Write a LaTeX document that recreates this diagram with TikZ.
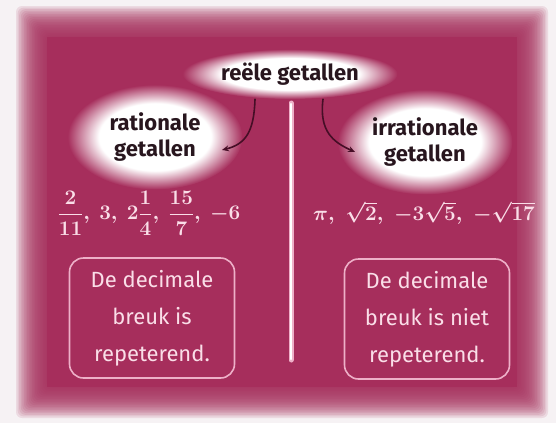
\documentclass[tikz,border=0pt]{standalone}
\usepackage{fontspec}
\setmainfont{Fira Sans}
\usetikzlibrary{shapes.geometric,arrows.meta}

\definecolor{wijn}{RGB}{166,46,92}
\definecolor{rand}{RGB}{246,242,244}
\definecolor{inkt}{RGB}{40,22,30}
\definecolor{pijl}{RGB}{70,14,38}
\definecolor{krijt}{RGB}{250,222,232}
\definecolor{lijn}{RGB}{238,176,200}

% witte gloed achter de koppen
\pgfdeclareradialshading{gloed}{\pgfpoint{0bp}{0bp}}{color(0bp)=(white); color(16bp)=(white); color(25bp)=(wijn); color(50bp)=(wijn)}

\tikzset{
  kop/.style={ellipse, shade, shading=gloed, inner sep=0pt, text=inkt, align=center, font=\fontsize{22}{26}\selectfont\bfseries},
  rij/.style={text=krijt, font=\fontsize{20}{24}\selectfont\boldmath},
  kader/.style={draw=lijn, line width=1.6pt, rounded corners=14pt, text=krijt, align=center,
    font=\fontsize{22}{37}\selectfont, minimum width=165pt, minimum height=120pt},
  pijlstijl/.style={draw=pijl, line width=1.6pt, -{Stealth[length=7pt,width=6pt]}}
}

\begin{document}
\begin{tikzpicture}[x=1pt, y=-1pt, line cap=round]
  \useasboundingbox (0,0) rectangle (556,423);

  %% achtergrond met zachte rand
  \fill[rand] (0,0) rectangle (556,423);
  \foreach \i in {0,...,19}
    \fill[wijn, opacity=0.12, rounded corners=6pt] (16+1.6*\i,6+1.6*\i) rectangle (548-1.6*\i,418-1.6*\i);
  \fill[wijn] (47,37) rectangle (517,387);

  %% scheidslijn
  \draw[lijn, line width=5pt] (291,103) -- (291,360);
  \draw[white, line width=2.5pt] (291,104) -- (291,359);

  %% koppen
  \node[kop, minimum width=215pt, minimum height=50pt] (reeel) at (290,74) {reële getallen};
  \node[kop, minimum width=175pt, minimum height=105pt] (rat) at (155,137) {rationale\\getallen};
  \node[kop, minimum width=175pt, minimum height=105pt] (irr) at (425,142) {irrationale\\getallen};

  %% voorbeelden
  \node[rij] (ratget) at (149,213) {$\displaystyle \frac{2}{11},\ 3,\ 2\frac{1}{4},\ \frac{15}{7},\ -6$};
  \node[rij] (irrget) at (424,213) {$\pi,\; \sqrt{2},\; -3\sqrt{5},\; -\sqrt{17}$};

  %% kaders
  \node[kader] (ratkader) at (152,318) {De decimale\\breuk is\\repeterend.};
  \node[kader] (irrkader) at (427,319) {De decimale\\breuk is niet\\repeterend.};

  %% pijlen
  \draw[pijlstijl] ([xshift=-35pt]reeel.south) .. controls +(-1,32) and +(24,-6) .. ([xshift=67pt,yshift=-13pt]rat.center);
  \draw[pijlstijl] ([xshift=33pt]reeel.south) .. controls +(-4,32) and +(-22,-10) .. ([xshift=-70pt,yshift=-10pt]irr.center);
\end{tikzpicture}
\end{document}
